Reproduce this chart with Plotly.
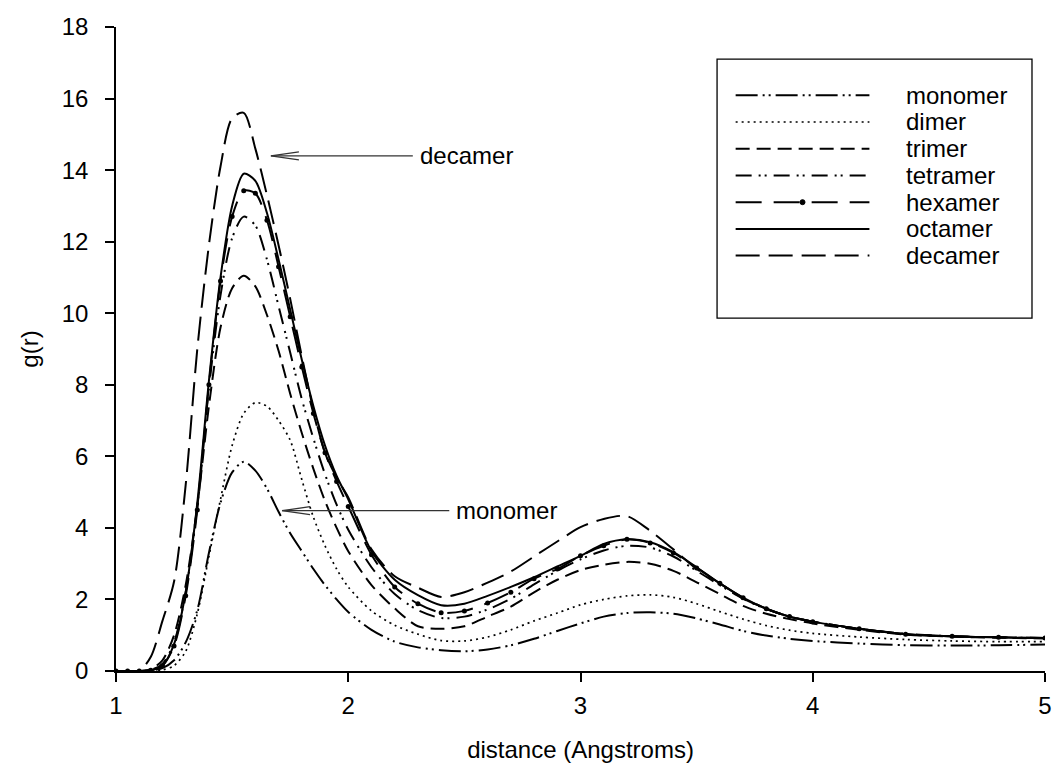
import plotly.graph_objects as go

# ---------------- data ----------------
r = [1.0, 1.05, 1.1, 1.15, 1.2, 1.25, 1.3, 1.35, 1.4, 1.45, 1.5, 1.55, 1.6, 1.65, 1.7,
     1.75, 1.8, 1.85, 1.9, 1.95, 2.0, 2.1, 2.2, 2.3, 2.4, 2.5, 2.6, 2.7, 2.8, 2.9,
     3.0, 3.1, 3.2, 3.3, 3.4, 3.5, 3.6, 3.7, 3.8, 3.9, 4.0, 4.2, 4.4, 4.6, 4.8, 5.0]

monomer = [0, 0, 0, 0.01, 0.08, 0.3, 0.8, 1.7, 3.3, 4.7, 5.55, 5.85, 5.6, 5.1, 4.45,
           3.85, 3.35, 2.85, 2.4, 2.0, 1.65, 1.15, 0.82, 0.66, 0.58, 0.55, 0.6, 0.72, 0.9, 1.12,
           1.33, 1.52, 1.62, 1.64, 1.6, 1.47, 1.3, 1.12, 0.99, 0.9, 0.84, 0.77, 0.72, 0.71, 0.72, 0.74]

dimer = [0, 0, 0, 0, 0.03, 0.15, 0.55, 1.6, 3.2, 4.8, 6.3, 7.2, 7.5, 7.4, 7.0,
         6.45, 5.35, 4.3, 3.5, 2.85, 2.35, 1.68, 1.28, 1.03, 0.85, 0.84, 0.95, 1.15, 1.4, 1.62,
         1.85, 2.0, 2.1, 2.13, 2.06, 1.88, 1.66, 1.45, 1.27, 1.14, 1.05, 0.95, 0.88, 0.84, 0.82, 0.82]

trimer = [0, 0, 0, 0.05, 0.3, 1.0, 2.4, 4.6, 7.4, 9.6, 10.7, 11.05, 10.75, 9.95, 8.95,
          7.75, 6.65, 5.65, 4.75, 4.0, 3.35, 2.4, 1.75, 1.25, 1.18, 1.25, 1.52, 1.8, 2.2, 2.55,
          2.82, 2.97, 3.05, 3.0, 2.8, 2.48, 2.15, 1.82, 1.6, 1.45, 1.33, 1.15, 1.02, 0.96, 0.93, 0.91]

tetramer = [0, 0, 0, 0.03, 0.2, 0.8, 2.2, 4.6, 7.9, 10.5, 12.1, 12.7, 12.45, 11.5, 10.2,
            8.9, 7.6, 6.5, 5.5, 4.65, 3.95, 2.9, 2.15, 1.7, 1.48, 1.52, 1.72, 2.02, 2.42, 2.8,
            3.12, 3.37, 3.5, 3.45, 3.2, 2.8, 2.4, 2.02, 1.73, 1.52, 1.38, 1.18, 1.04, 0.97, 0.94, 0.92]

hexamer = [0, 0, 0, 0.02, 0.15, 0.7, 2.1, 4.5, 8.0, 10.9, 12.7, 13.42, 13.35, 12.6, 11.3,
           9.9, 8.5, 7.2, 6.1, 5.3, 4.6, 3.25, 2.35, 1.88, 1.63, 1.68, 1.9, 2.2, 2.58, 2.85,
           3.22, 3.5, 3.68, 3.58, 3.3, 2.88, 2.45, 2.05, 1.74, 1.52, 1.38, 1.18, 1.03, 0.97, 0.94, 0.92]

octamer = [0, 0, 0, 0.02, 0.15, 0.75, 2.2, 4.7, 8.1, 11.0, 13.0, 13.9, 13.7, 12.8, 11.5,
           10.1, 8.7, 7.4, 6.3, 5.45, 4.8, 3.35, 2.55, 2.12, 1.84, 1.88, 2.1, 2.35, 2.62, 2.92,
           3.22, 3.55, 3.68, 3.6, 3.32, 2.9, 2.45, 2.05, 1.74, 1.52, 1.38, 1.18, 1.03, 0.97, 0.94, 0.92]

decamer = [0, 0, 0, 0.4, 1.4, 2.5, 5.2, 9.0, 11.9, 14.1, 15.45, 15.6, 14.6, 13.3, 11.9,
           10.4, 8.8, 7.3, 6.1, 5.4, 4.85, 3.4, 2.65, 2.33, 2.07, 2.2, 2.47, 2.78, 3.2, 3.62,
           4.02, 4.25, 4.33, 3.92, 3.4, 2.85, 2.45, 2.03, 1.74, 1.52, 1.38, 1.18, 1.03, 0.97, 0.94, 0.92]

series_names = ["monomer", "dimer", "trimer", "tetramer", "hexamer", "octamer", "decamer"]
series_values = [monomer, dimer, trimer, tetramer, hexamer, octamer, decamer]

x_ticks = [1, 2, 3, 4, 5]
y_ticks = [0, 2, 4, 6, 8, 10, 12, 14, 16, 18]

# ---------------- styles ----------------
FONT = "Liberation Sans, Arial, sans-serif"
dashes = {
    "monomer": "22px,5px,2px,4px,2px,5px",
    "dimer": "2px,4px",
    "trimer": "14px,7px",
    "tetramer": "16px,7px,2px,4px,2px,7px",
    "hexamer": "26px,12px",
    "octamer": "solid",
    "decamer": "24px,9px",
}
widths = {"dimer": 1.7}
LW = 2.0

fig = go.Figure()
for name, vals in zip(series_names, series_values):
    fig.add_trace(go.Scatter(
        x=r, y=vals, name=name,
        mode="lines+markers" if name == "hexamer" else "lines",
        line=dict(color="black", width=widths.get(name, LW), dash=dashes[name],
                  shape="spline", smoothing=0.8),
        marker=dict(size=5, color="black"),
        showlegend=False,
        hoverinfo="x+y+name",
    ))

# ---------------- custom legend (paper coords) ----------------
L_X0, L_X1 = 0.647, 0.986
L_Y0, L_Y1 = 0.548, 0.950
row_top = 0.894
row_step = 0.0415
sample_x0, sample_x1 = 0.667, 0.811
text_x = 0.848

shapes = [dict(type="rect", xref="paper", yref="paper", x0=L_X0, x1=L_X1, y0=L_Y0, y1=L_Y1,
               line=dict(color="black", width=1.3), fillcolor="white", layer="below")]
annotations = []
for i, name in enumerate(series_names):
    yy = row_top - i * row_step
    d = dashes[name]
    shapes.append(dict(type="line", xref="paper", yref="paper", x0=sample_x0, x1=sample_x1,
                       y0=yy, y1=yy,
                       line=dict(color="black", width=widths.get(name, LW), dash=d)))
    if name == "hexamer":
        shapes.append(dict(type="circle", xref="paper", yref="paper",
                           xsizemode="pixel", ysizemode="pixel",
                           xanchor=(sample_x0 + sample_x1) / 2, yanchor=yy,
                           x0=-2.5, x1=2.5, y0=-2.5, y1=2.5,
                           fillcolor="black", line=dict(color="black", width=1)))
    annotations.append(dict(xref="paper", yref="paper", x=text_x, y=yy, text=name,
                            showarrow=False, xanchor="left", yanchor="middle",
                            font=dict(family=FONT, size=24, color="black")))

# ---------------- callout arrows ----------------
callouts = [
    # label, arrow tip x, tip y, tail x, text x
    ("decamer", 1.667, 14.4, 2.278, 2.30),
    ("monomer", 1.715, 4.48, 2.435, 2.455),
]
for label, tx, ty, ex, lx in callouts:
    shapes.append(dict(type="line", xref="x", yref="y", x0=tx, x1=ex, y0=ty, y1=ty,
                       line=dict(color="#333333", width=1.3)))
    shapes.append(dict(type="path", xref="x", yref="y", xsizemode="pixel", ysizemode="pixel",
                       xanchor=tx, yanchor=ty, path="M28,4 L0,0 L28,-4",
                       line=dict(color="#333333", width=1.3)))
    annotations.append(dict(xref="x", yref="y", x=lx, y=ty, text=label, showarrow=False,
                            xanchor="left", yanchor="middle",
                            font=dict(family=FONT, size=24, color="black")))

axis_common = dict(
    showline=True, linecolor="black", linewidth=1.5,
    ticks="outside", ticklen=9, tickwidth=1.5, tickcolor="black",
    showgrid=False, zeroline=False,
    tickfont=dict(family=FONT, size=24, color="black"),
)

fig.update_layout(
    width=1062, height=783,
    margin=dict(l=116, r=10, t=27, b=112),
    paper_bgcolor="white", plot_bgcolor="white",
    font=dict(family=FONT, color="black"),
    xaxis=dict(range=[1, 5], tickvals=x_ticks, ticklabelstandoff=3,
               title=dict(text="distance (Angstroms)", font=dict(family=FONT, size=24), standoff=24),
               **axis_common),
    yaxis=dict(range=[0, 18], tickvals=y_ticks, ticklabelstandoff=12,
               title=dict(text="g(r)", font=dict(family=FONT, size=24), standoff=16),
               **axis_common),
    shapes=shapes,
    annotations=annotations,
    showlegend=False,
)

fig.write_html("out.html")
